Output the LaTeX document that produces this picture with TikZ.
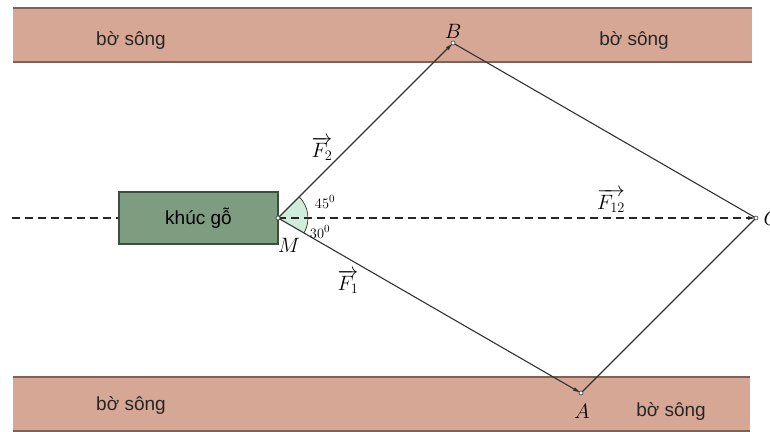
\documentclass[tikz,border=0pt]{standalone}
\usepackage{fontspec}
\setmainfont{Liberation Sans}
\usetikzlibrary{arrows.meta,calc}
\definecolor{bankfill}{RGB}{214,167,148}
\definecolor{bankline}{RGB}{125,98,88}
\definecolor{woodfill}{RGB}{125,156,128}
\definecolor{woodline}{RGB}{60,78,60}
\definecolor{anglefill}{RGB}{208,236,218}
\definecolor{lineclr}{RGB}{50,50,50}
\begin{document}
\begin{tikzpicture}[x=1pt,y=1pt,
  banktext/.style={font=\fontsize{19}{22}\selectfont, text=black!85},
  vec/.style={draw=lineclr, line width=1.1pt, -{Latex[length=8pt,width=4pt]}},
  side/.style={draw=lineclr, line width=1.1pt},
  pt/.style={circle, draw=lineclr, fill=white, inner sep=0pt, minimum size=4pt, line width=0.6pt},
  lbl/.style={font=\fontsize{21}{24}\selectfont},
  anglbl/.style={font=\fontsize{15}{17}\selectfont},
  dashln/.style={draw=black!85, line width=1.1pt, dash pattern=on 8pt off 5pt}]
\useasboundingbox (0,0) rectangle (770,431);
% banks
\fill[bankfill] (13,369) rectangle (752,423);
\draw[bankline, line width=2pt] (13,423) -- (752,423) (13,369) -- (752,369);
\fill[bankfill] (13,0) rectangle (750,54);
\draw[bankline, line width=2pt] (13,54) -- (750,54) (13,0.5) -- (750,0.5);
\node[banktext] (t1) at (131,391) {bờ sông};
\node[banktext] (t2) at (634,391) {bờ sông};
\node[banktext] (t3) at (131,26) {bờ sông};
\node[banktext] (t4) at (671,20) {bờ sông};
% points
\coordinate (M) at (278,213);
\coordinate (B) at (453,388);
\coordinate (A) at (581,38);
\coordinate (C) at (756,213);
\coordinate (L) at (12,213);
% wood
\node[draw=woodline, fill=woodfill, line width=1.2pt, minimum width=159pt, minimum height=52pt, inner sep=0pt, font=\fontsize{19}{22}\selectfont] (wood) at (198.5,213) {khúc gỗ};
% angles
\fill[anglefill] (M) -- ++(30,0) arc[start angle=0, end angle=45, radius=30] -- cycle;
\fill[anglefill] (M) -- ++(30,0) arc[start angle=0, end angle=-30, radius=30] -- cycle;
\draw[lineclr, line width=0.7pt] ($(M)+(45:30)$) arc[start angle=45, end angle=-30, radius=30];
% lines
\draw[dashln] (L) -- (wood.west);
\draw[dashln, -{Latex[length=8pt,width=4pt]}] (M) -- (C);
\draw[vec] (M) -- (B);
\draw[vec] (M) -- (A);
\draw[side] (B) -- (C);
\draw[side] (A) -- (C);
\node[pt] (pM) at (M) {};
\node[pt] (pB) at (B) {};
\node[pt] (pA) at (A) {};
\node[pt] (pC) at (C) {};
% labels
\node[lbl] (lB) at (453,400) {$B$};
\node[lbl] (lA) at (582,20) {$A$};
\node[lbl, anchor=west] (lC) at (760,213) {$C$};
\node[lbl] (lM) at (289,186) {$M$};
\node[lbl] (lF2) at (322,282) {$\overrightarrow{F_2}$};
\node[lbl] (lF12) at (611,230) {$\overrightarrow{F_{12}}$};
\node[lbl] (lF1) at (348,149) {$\overrightarrow{F_1}$};
\node[anglbl] (a45) at (325,229) {$45^0$};
\node[anglbl] (a30) at (320,199) {$30^0$};
\end{tikzpicture}
\end{document}
